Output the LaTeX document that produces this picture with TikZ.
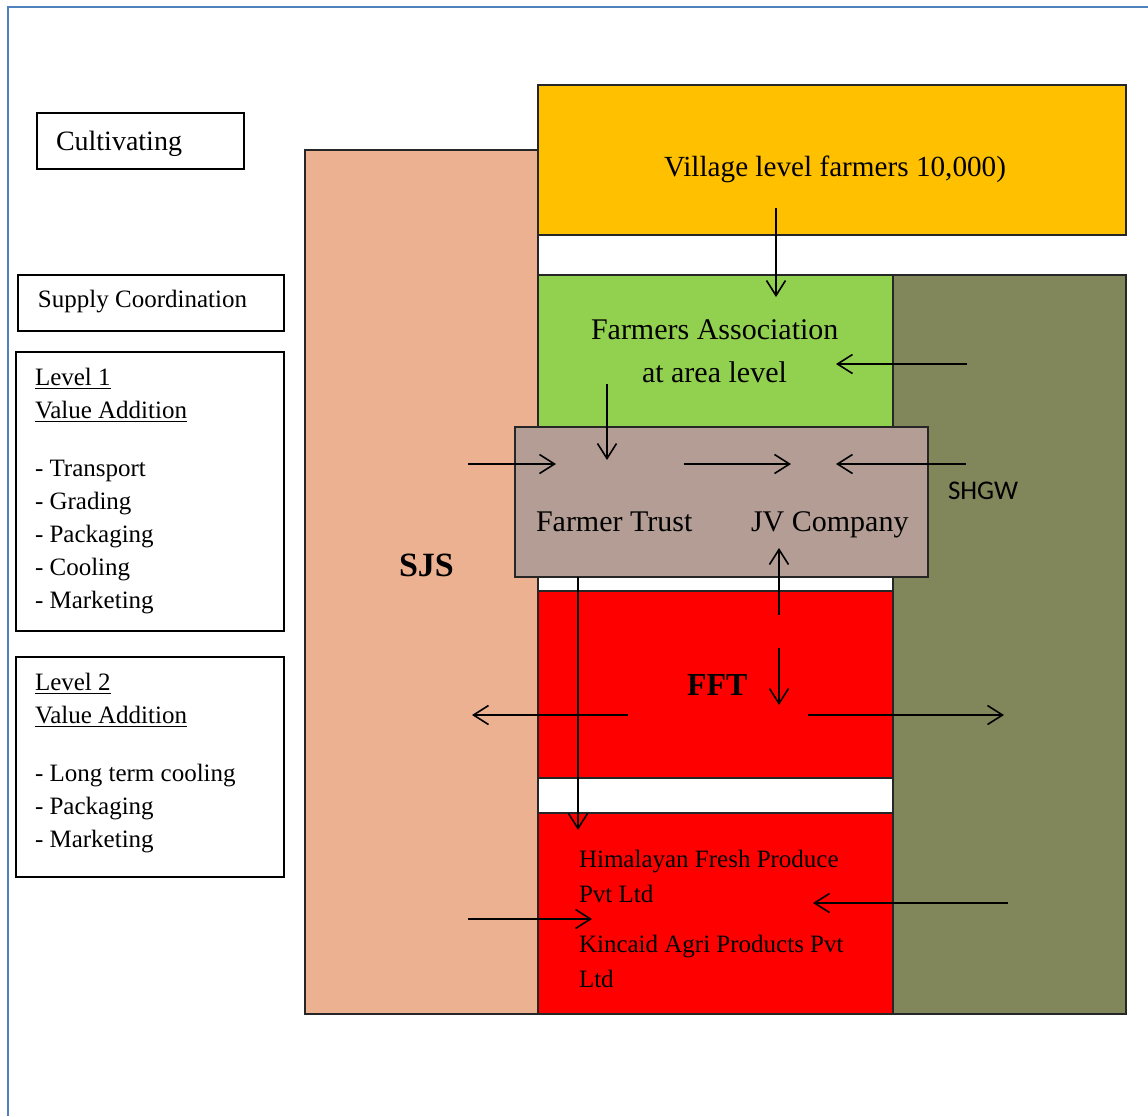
\documentclass[tikz,border=0pt]{standalone}
\usepackage{fontspec}
\setmainfont{Liberation Serif}
\newfontfamily\carlito{Carlito}
\usetikzlibrary{arrows.meta}
\definecolor{sjscol}{RGB}{235,177,145}
\definecolor{yelcol}{RGB}{255,192,0}
\definecolor{grncol}{RGB}{146,208,80}
\definecolor{olvcol}{RGB}{129,135,90}
\definecolor{brncol}{RGB}{179,157,148}
\definecolor{redcol}{RGB}{255,0,0}
\definecolor{framecol}{RGB}{79,129,189}
\tikzset{
  blk/.style={draw=black!85, line width=0.6pt, inner sep=0pt, outer sep=0pt, anchor=north west},
  lbox/.style={draw=black, line width=0.6pt, inner sep=0pt, outer sep=0pt, anchor=north west},
  txt/.style={anchor=base west, inner sep=0pt, outer sep=0pt},
  arr/.style={line width=0.8pt, -{Straight Barb[length=7.5pt,width=9.5pt,line width=0.8pt]}},
  fs/.style={font=\fontsize{12.5}{15}\selectfont},
  fm/.style={font=\fontsize{15}{18}\selectfont},
}
\begin{document}
\begin{tikzpicture}[x=0.5pt,y=-0.5pt]
\useasboundingbox (0,0) rectangle (1148,1116);
\draw[framecol, line width=1pt] (8,1116) -- (8,7) -- (1148,7);

% left boxes
\node[lbox, minimum width=103.5pt, minimum height=28pt] (cultbox) at (37,113) {};
\node[lbox, minimum width=133pt, minimum height=28pt] (supbox) at (18,275) {};
\node[lbox, minimum width=134pt, minimum height=139.5pt] (lv1box) at (16,352) {};
\node[lbox, minimum width=134pt, minimum height=110pt] (lv2box) at (16,657) {};

\node[txt, font=\fontsize{14}{17}\selectfont] (cult) at (56,150) {Cultivating};
\node[txt, fs] (sup) at (38,307) {Supply Coordination};

\node[txt, fs] (l1a) at (35,385) {\underline{Level 1}};
\node[txt, fs] (l1b) at (35,418) {\underline{Value Addition}};
\node[txt, fs] (l1c) at (35,476) {- Transport};
\node[txt, fs] (l1d) at (35,509) {- Grading};
\node[txt, fs] (l1e) at (35,542) {- Packaging};
\node[txt, fs] (l1f) at (35,575) {- Cooling};
\node[txt, fs] (l1g) at (35,608) {- Marketing};

\node[txt, fs] (l2a) at (35,690) {\underline{Level 2}};
\node[txt, fs] (l2b) at (35,723) {\underline{Value Addition}};
\node[txt, fs] (l2c) at (35,781) {- Long term cooling};
\node[txt, fs] (l2d) at (35,814) {- Packaging};
\node[txt, fs] (l2e) at (35,847) {- Marketing};

% main blocks
\node[blk, fill=sjscol, minimum width=116.5pt, minimum height=432pt] (sjs) at (305,150) {};
\node[blk, fill=yelcol, minimum width=294pt, minimum height=75pt] (village) at (538,85) {};
\node[blk, fill=grncol, minimum width=177.5pt, minimum height=76pt] (fa) at (538,275) {};
\node[blk, fill=olvcol, minimum width=116.5pt, minimum height=369.5pt] (shgw) at (893,275) {};
\node[blk, fill=redcol, minimum width=177.5pt, minimum height=93.5pt] (fft) at (538,591) {};
\node[blk, fill=redcol, minimum width=177.5pt, minimum height=100.5pt] (hfp) at (538,813) {};
\node[blk, fill=brncol, minimum width=206.5pt, minimum height=75pt] (trust) at (515,427) {};

% texts
\node[txt, font=\fontsize{14.6}{17}\selectfont] (tvil) at (664,176) {Village level farmers 10,000)};
\node[txt, fm] (tfa1) at (591,339) {Farmers Association};
\node[txt, fm] (tfa2) at (642,382) {at area level};
\node[txt, fm] (tft) at (536,531) {Farmer Trust};
\node[txt, fm] (tjv) at (751,531) {JV Company};
\node[txt, font=\carlito\fontsize{13.5}{16}\selectfont] (tshgw) at (948,499) {SHGW};
\node[txt, font=\fontsize{17}{20}\selectfont\bfseries] (tsjs) at (399,576) {SJS};
\node[txt, font=\fontsize{16}{19}\selectfont\bfseries] (tfft) at (687,695) {FFT};
\node[txt, fs] (th1) at (579,867) {Himalayan Fresh Produce};
\node[txt, fs] (th2) at (579,902) {Pvt Ltd};
\node[txt, fs] (th3) at (579,952) {Kincaid Agri Products Pvt};
\node[txt, fs] (th4) at (579,987) {Ltd};

% arrow end points
\coordinate (as1) at (776,208);  \coordinate (ae1) at (776,297);
\coordinate (as2) at (967,364);  \coordinate (ae2) at (836,364);
\coordinate (as3) at (607,384);  \coordinate (ae3) at (607,460);
\coordinate (as4) at (468,464);  \coordinate (ae4) at (556,464);
\coordinate (as5) at (684,464);  \coordinate (ae5) at (791,464);
\coordinate (as6) at (966,464);  \coordinate (ae6) at (836,464);
\coordinate (as7) at (779,615);  \coordinate (ae7) at (779,548);
\coordinate (as8) at (779,648);  \coordinate (ae8) at (779,705);
\coordinate (as9) at (578,577);  \coordinate (ae9) at (578,830);
\coordinate (as10) at (628,715); \coordinate (ae10) at (472,715);
\coordinate (as11) at (808,715); \coordinate (ae11) at (1004,715);
\coordinate (as12) at (468,919); \coordinate (ae12) at (592,919);
\coordinate (as13) at (1008,903); \coordinate (ae13) at (813,903);

\foreach \i in {1,...,13} {\draw[arr] (as\i) -- (ae\i);}
\end{tikzpicture}
\end{document}
